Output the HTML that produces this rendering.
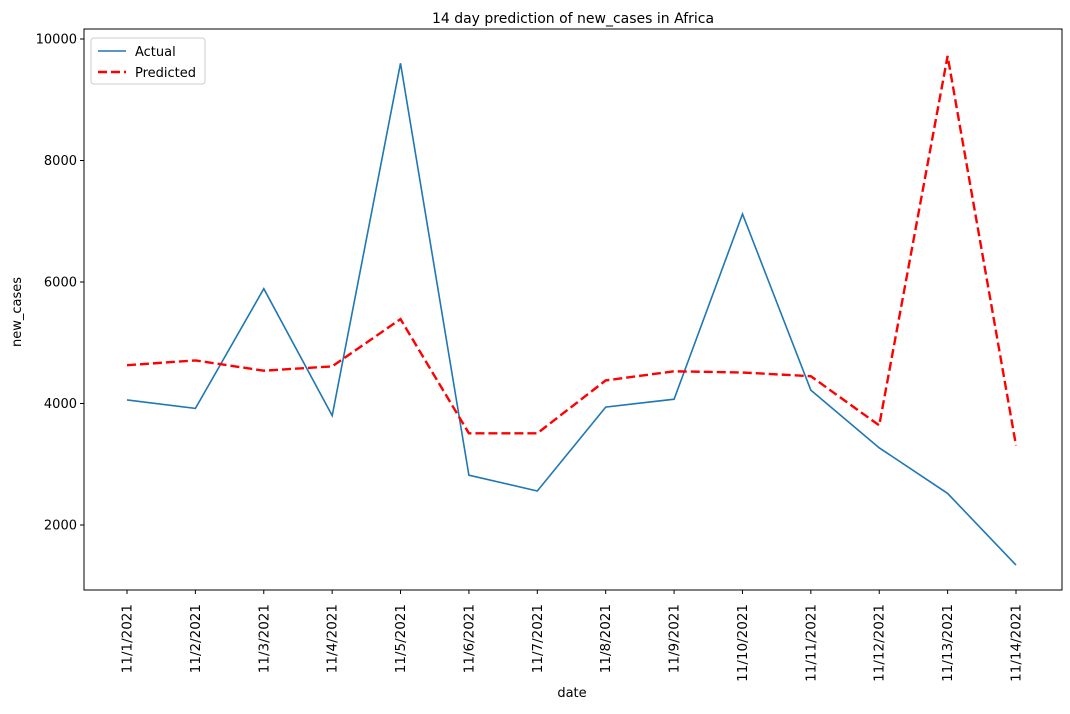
<!DOCTYPE html>
<html><head><meta charset="utf-8"><style>
body{margin:0;background:#fff;}
svg text{font-family:"DejaVu Sans","Liberation Sans",sans-serif;fill:#000;}
</style></head><body>
<svg width="1070" height="709">
<text x="573" y="23" font-size="14" text-anchor="middle">14 day prediction of new_cases in Africa</text>
<g id="yaxis"></g>
<g id="xaxis"></g>
<path id="actual" fill="none" stroke="#1f77b4" stroke-width="1.6"/>
<path id="pred" fill="none" stroke="#ff0000" stroke-width="2.4" stroke-dasharray="9,4"/>
<rect x="84" y="29" width="978" height="561" fill="none" stroke="#000" stroke-width="1"/>
<text x="572" y="697" font-size="13" text-anchor="middle">date</text>
<text transform="translate(21,312) rotate(-90)" font-size="13" text-anchor="middle">new_cases</text>
<g>
<rect x="91" y="38" width="114" height="46" rx="3" fill="#fff" stroke="#ccc"/>
<line x1="98" y1="51" x2="126" y2="51" stroke="#1f77b4" stroke-width="1.6"/>
<text x="135" y="56" font-size="13">Actual</text>
<line x1="98" y1="72" x2="126" y2="72" stroke="#ff0000" stroke-width="2.4" stroke-dasharray="9,4"/>
<text x="135" y="77" font-size="13">Predicted</text>
</g>
</svg>
<script>
const dates=["11/1/2021","11/2/2021","11/3/2021","11/4/2021","11/5/2021","11/6/2021","11/7/2021","11/8/2021","11/9/2021","11/10/2021","11/11/2021","11/12/2021","11/13/2021","11/14/2021"];
const actual=[4060,3920,5890,3800,9600,2820,2560,3940,4070,7120,4220,3270,2520,1340];
const predicted=[4630,4710,4540,4610,5390,3510,3510,4380,4530,4510,4450,3640,9720,3310];
const yTicks=[2000,4000,6000,8000,10000];
const NS="http://www.w3.org/2000/svg";
const x=i=>127+i*(1016-127)/13;
const y=v=>525-(v-2000)*0.06075;
const ya=document.getElementById('yaxis'),xa=document.getElementById('xaxis');
yTicks.forEach(t=>{
 const l=document.createElementNS(NS,'line');
 l.setAttribute('x1',80);l.setAttribute('x2',84);l.setAttribute('y1',y(t));l.setAttribute('y2',y(t));l.setAttribute('stroke','#000');
 
 
 ya.appendChild(l);
 const s=document.createElementNS(NS,'text');
 s.setAttribute('x',77);s.setAttribute('y',y(t)+4.5);s.setAttribute('font-size','13');s.setAttribute('text-anchor','end');s.textContent=t;
 
 
 ya.appendChild(s);
});
dates.forEach((d,i)=>{
 const l=document.createElementNS(NS,'line');
 l.setAttribute('x1',x(i));l.setAttribute('x2',x(i));l.setAttribute('y1',590);l.setAttribute('y2',594);l.setAttribute('stroke','#000');
 
 
 xa.appendChild(l);
 const s=document.createElementNS(NS,'text');
 s.setAttribute('transform',`translate(${x(i)+4.5},604) rotate(-90)`);s.setAttribute('font-size','13.5');s.setAttribute('text-anchor','end');s.textContent=d;
 
 
 xa.appendChild(s);
});
const path=a=>a.map((v,i)=>(i?'L':'M')+x(i).toFixed(1)+','+y(v).toFixed(1)).join('');
document.getElementById('actual').setAttribute('d',path(actual));
document.getElementById('pred').setAttribute('d',path(predicted));
</script>
</body></html>
